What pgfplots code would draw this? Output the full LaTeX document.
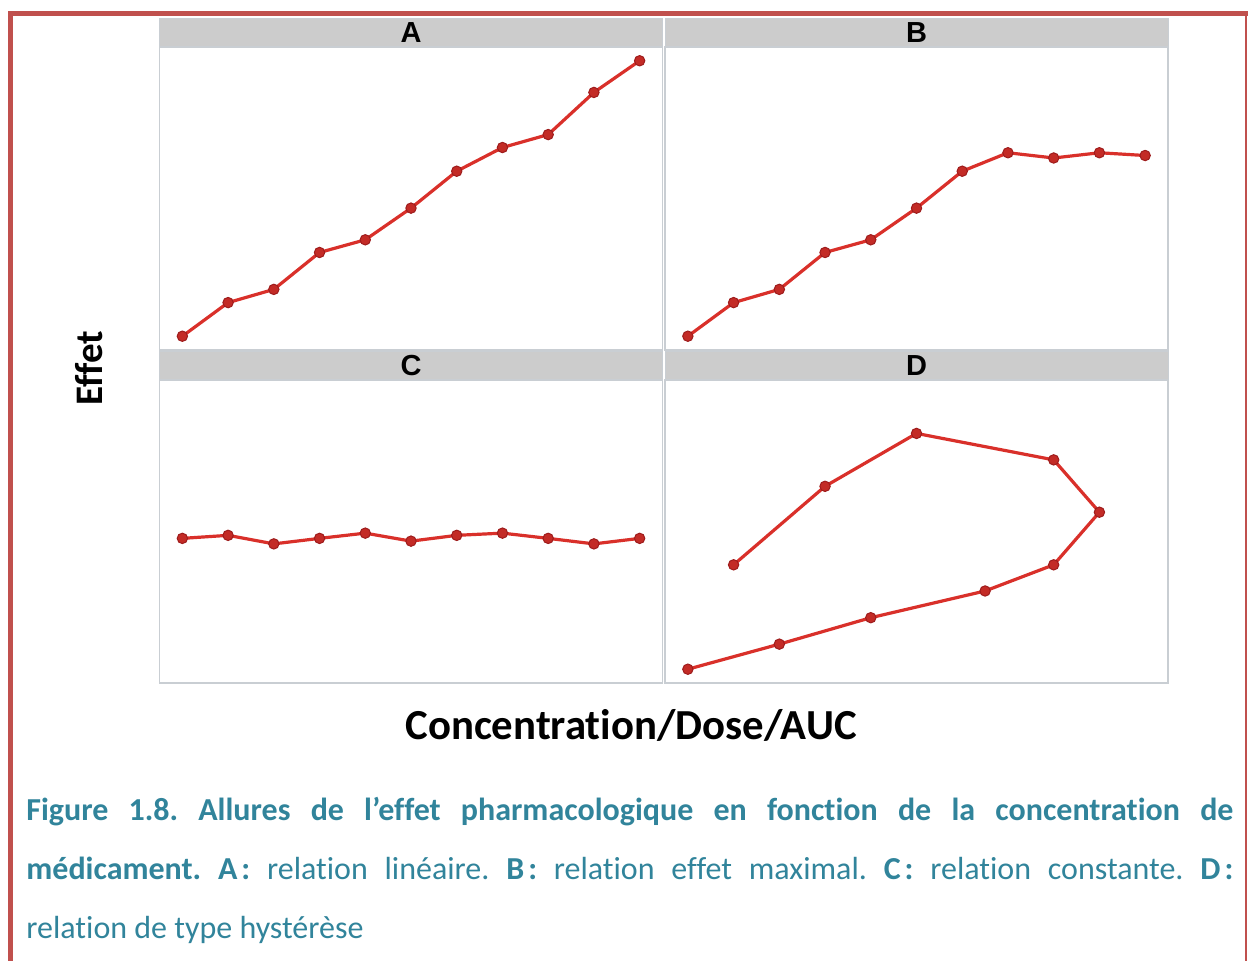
\documentclass[border=0pt]{standalone}
\usepackage{fontspec}
\setmainfont{Carlito}[Ligatures={TeX,NoCommon}]
\newfontfamily\arial{Liberation Sans}
\usepackage{pgfplots}
\pgfplotsset{compat=1.18}
\frenchspacing

\definecolor{framered}{HTML}{C0504D}
\definecolor{stripgray}{HTML}{CCCCCC}
\definecolor{panelgray}{HTML}{C9CED3}
\definecolor{linered}{HTML}{D9302A}
\definecolor{markedge}{HTML}{9E1C1C}
\definecolor{captionblue}{HTML}{31849B}

\pgfplotsset{
  panel/.style={
    scale only axis,
    width=251.5pt, height=151.5pt,
    xmin=-0.5, xmax=10.5, ymin=-0.5, ymax=10.5,
    xtick=\empty, ytick=\empty,
    axis line style={draw=panelgray, line width=0.7pt},
  },
  effet/.style={
    color=linered, line width=1.6pt,
    mark=*, mark size=2.6pt,
    mark options={fill=linered!90!black, draw=markedge, line width=0.5pt},
  },
}

\begin{document}
\begin{tikzpicture}
\useasboundingbox (0,0) rectangle (624pt,480.5pt);

% frame
\fill[framered] (4pt,0) rectangle (6.65pt,475pt);
\fill[framered] (4pt,472.5pt) rectangle (623.75pt,475pt);
\fill[framered] (622.4pt,0) rectangle (623.6pt,475pt);

% A
\begin{axis}[panel, at={(79.75pt,305.5pt)}]
\addplot[effet] coordinates {
  (0,0) (1,1.22) (2,1.70) (3,3.04) (4,3.50) (5,4.65)
  (6,5.99) (7,6.85) (8,7.32) (9,8.85) (10,10)
};
\end{axis}

% B
\begin{axis}[panel, at={(332.5pt,305.5pt)}]
\addplot[effet] coordinates {
  (0,0) (1,1.22) (2,1.70) (3,3.04) (4,3.50) (5,4.65)
  (6,5.99) (7,6.66) (8,6.47) (9,6.66) (10,6.56)
};
\end{axis}

% C
\begin{axis}[panel, at={(79.75pt,139pt)}]
\addplot[effet] coordinates {
  (0,4.75) (1,4.86) (2,4.55) (3,4.75) (4,4.94) (5,4.65)
  (6,4.86) (7,4.94) (8,4.75) (9,4.55) (10,4.75)
};
\end{axis}

% D
\begin{axis}[panel, at={(332.5pt,139pt)}]
\addplot[effet] coordinates {
  (0,0) (2,0.91) (4,1.87) (6.5,2.84) (8,3.79) (9,5.70)
  (8,7.60) (5,8.56) (3,6.64) (1,3.79)
};
\end{axis}

% strips
\filldraw[fill=stripgray, draw=panelgray, line width=0.5pt] (79.75pt,457pt) rectangle (331.25pt,471pt);
\filldraw[fill=stripgray, draw=panelgray, line width=0.5pt] (332.5pt,457pt) rectangle (584pt,471pt);
\filldraw[fill=stripgray, draw=panelgray, line width=0.5pt] (79.75pt,290.5pt) rectangle (331.25pt,304.5pt);
\filldraw[fill=stripgray, draw=panelgray, line width=0.5pt] (332.5pt,290.5pt) rectangle (584pt,304.5pt);
\node[font=\arial\bfseries\fontsize{14.5}{15}\selectfont] at (205.5pt,464pt) {A};
\node[font=\arial\bfseries\fontsize{14.5}{15}\selectfont] at (458.25pt,464pt) {B};
\node[font=\arial\bfseries\fontsize{14.5}{15}\selectfont] at (205.5pt,297.5pt) {C};
\node[font=\arial\bfseries\fontsize{14.5}{15}\selectfont] at (458.25pt,297.5pt) {D};

% axis titles
\node[rotate=90, font=\bfseries\fontsize{19.5}{20}\selectfont] at (44.5pt,296.5pt) {Effet};
\node[font=\bfseries\fontsize{21.4}{22}\selectfont] at (315.5pt,118pt) {Concentration/Dose/AUC};

% caption
\begin{scope}[every node/.style={inner sep=0pt, anchor=base west, text=captionblue, font=\fontsize{16}{18}\selectfont}]
\node at (13pt,70pt) {\makebox[603.5pt][s]{\bfseries Figure 1.8. Allures de l’effet pharmacologique en fonction de la concentration de}};
\node at (13pt,40.5pt) {\makebox[603.5pt][s]{\textbf{médicament. A\kern2pt:} relation linéaire. \textbf{B\kern2pt:} relation effet maximal. \textbf{C\kern2pt:} relation constante. \textbf{D\kern2pt:}}};
\node at (13pt,11pt) {relation de type hystérèse};
\end{scope}
\end{tikzpicture}
\end{document}
